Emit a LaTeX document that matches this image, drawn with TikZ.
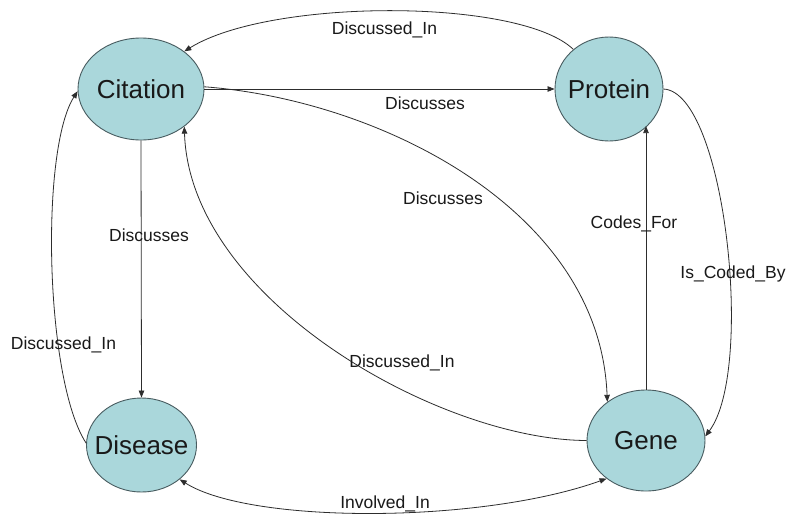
\documentclass[tikz,border=0pt]{standalone}
\usepackage{fontspec}
\setmainfont{Liberation Sans}
\usetikzlibrary{arrows.meta,shapes.geometric}

\definecolor{entityfill}{RGB}{170,215,219}
\definecolor{entityline}{RGB}{72,92,96}
\definecolor{linkline}{RGB}{45,45,45}
\definecolor{inkcolor}{RGB}{25,25,25}

\tikzset{
  entity/.style={ellipse, draw=entityline, line width=0.9pt, fill=entityfill,
    inner sep=0pt, text=inkcolor, font=\fontsize{26}{30}\selectfont},
  link/.style={draw=linkline, line width=0.8pt,
    -{Triangle[length=7pt,width=5.5pt]}},
  biglink/.style={draw=linkline, line width=0.8pt,
    {Triangle[length=7pt,width=5.5pt]}-{Triangle[length=7pt,width=5.5pt]}},
  rel/.style={anchor=base, inner sep=0pt, text=inkcolor,
    font=\fontsize{17.5}{20}\selectfont},
}

\begin{document}
\begin{tikzpicture}[x=1pt,y=-1pt]
  \fill[white] (0,0) rectangle (787,517);
  \useasboundingbox (0,0) rectangle (787,517);

  % entities
  \node[entity, minimum width=126pt, minimum height=102pt] (citation) at (141,89) {\makebox[0pt]{Citation}};
  \node[entity, minimum width=108pt, minimum height=104pt] (protein) at (609,89) {\makebox[0pt]{Protein}};
  \node[entity, minimum width=110pt, minimum height=94pt] (disease) at (141.5,445) {\makebox[0pt]{Disease}};
  \node[entity, minimum width=118pt, minimum height=101pt] (gene) at (646,440.5) {\makebox[0pt]{Gene}};

  % relations
  \draw[link] (protein.132) .. controls (520,-2) and (270,-2) .. (citation.41);
  \draw[link] (citation.east) -- (protein.west);
  \draw[link] (citation.2) .. controls (380,100) and (600,210) .. (gene.135);
  \draw[link] (gene.west) .. controls (440,440) and (190,300) .. (citation.-41);
  \draw[link] (citation.south) -- (disease.north);
  \draw[link] (disease.178) .. controls (45,380) and (40,150) .. (citation.182);
  \draw[biglink] (disease.-42) .. controls (250,524) and (480,524) .. (gene.-136);
  \draw[link] (gene.north) -- (gene.north |- protein.-44);
  \draw[link] (protein.east) .. controls (725,92) and (755,370) .. (gene.4);

  % relation names
  \node[rel] (l1) at (384.5,34.5) {Discussed\_In};
  \node[rel] (l2) at (425,109) {Discusses};
  \node[rel] (l3) at (443,204) {Discusses};
  \node[rel] (l4) at (402,367) {Discussed\_In};
  \node[rel] (l5) at (149,241.5) {Discusses};
  \node[rel] (l6) at (63.5,349) {Discussed\_In};
  \node[rel] (l7) at (385,508) {Involved\_In};
  \node[rel] (l8) at (634,228) {Codes\_For};
  \node[rel] (l9) at (733,278) {Is\_Coded\_By};
\end{tikzpicture}
\end{document}
